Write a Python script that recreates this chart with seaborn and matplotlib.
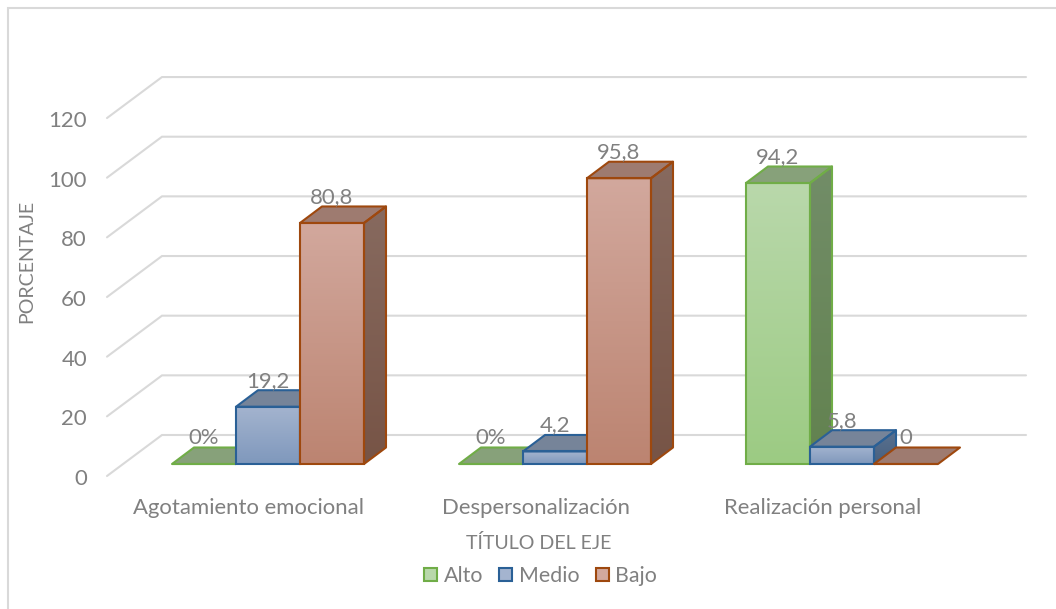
import numpy as np
import pandas as pd
import matplotlib
matplotlib.use("Agg")
import matplotlib.pyplot as plt
from matplotlib.lines import Line2D
from matplotlib.patches import Patch, Polygon
from matplotlib.transforms import ScaledTranslation
import seaborn as sns

# Chart values
categories = ["Agotamiento emocional", "Despersonalización", "Realización personal"]
series_names = ["Alto", "Medio", "Bajo"]
alto = [0, 0, 94.2]
medio = [19.2, 4.2, 5.8]
bajo = [80.8, 95.8, 0]
alto_labels = ["0%", "0%", "94,2"]
medio_labels = ["19,2", "4,2", "5,8"]
bajo_labels = ["80,8", "95,8", "0"]
y_ticks = [0, 20, 40, 60, 80, 100, 120]

# Per-series styling: edge, front top/bottom, side top/bottom, roof
edge_colors = {"Alto": "#70AD47", "Medio": "#2A6096", "Bajo": "#9E480E"}
front_colors = {"Alto": ("#B9D8AB", "#9CCB83"), "Medio": ("#A4B4CF", "#7F98BC"), "Bajo": ("#D2A89D", "#BC8471")}
side_colors = {"Alto": ("#728D68", "#62824F"), "Medio": ("#5A7190", "#48617F"), "Bajo": ("#876A5F", "#775446")}
roof_colors = {"Alto": "#87A17A", "Medio": "#768499", "Bajo": "#9E7B70"}
text_color = "#808080"
grid_color = "#D9D9D9"

W, H = 1056, 609
DPI = 100
sns.set_theme(style="white", rc={"figure.dpi": DPI})
plt.rcParams["font.family"] = ["Lato", "DejaVu Sans"]
FS = 15.9
TITLE_FS = 14.1

fig = plt.figure(figsize=(W / DPI, H / DPI), dpi=DPI)

# Axes box in pixels; limits chosen so that one category step is 287 px and one unit 2.983 px
L, R, T, B = 100, 1040, 20, 490
PX_X, PX_Y = 287.0, 2.983
X0_PX, Y0_PX = 268.0, 464.0
ax = fig.add_axes([L / W, 1 - B / H, (R - L) / W, (B - T) / H])


def px_dx(px):
    return px / PX_X


def px_dy(px):
    return px / PX_Y


table = pd.DataFrame({
    "categoria": categories * 3,
    "nivel": np.repeat(series_names, 3),
    "valor": alto + medio + bajo,
})
sns.barplot(data=table, x="categoria", y="valor", hue="nivel", order=categories,
            hue_order=series_names, palette=[edge_colors[s] for s in series_names],
            width=192 / 287, gap=0, saturation=1, legend=False, ax=ax)
xlim = ((L - X0_PX) / PX_X, (R - X0_PX) / PX_X)
ylim = ((Y0_PX - B) / PX_Y, (Y0_PX - T) / PX_Y)

# Depth of a bar and of the back wall, as offsets in data units
bar_dx, bar_dv = px_dx(22), px_dy(16.5)
wall_front_x = (107 - X0_PX) / PX_X
wall_back_x = (162 - X0_PX) / PX_X
wall_end_x = (1026 - X0_PX) / PX_X
wall_front_dv, wall_back_dv = px_dy(-12), px_dy(29)

for tick in y_ticks:
    ax.plot([wall_front_x, wall_back_x, wall_end_x],
            [tick + wall_front_dv, tick + wall_back_dv, tick + wall_back_dv],
            color=grid_color, lw=1.5, zorder=1, clip_on=False, solid_joinstyle="miter")


def shaded(points, colors, z):
    """Fill a polygon with a vertical two-colour gradient."""
    pts = np.asarray(points)
    x0, x1, v0, v1 = pts[:, 0].min(), pts[:, 0].max(), pts[:, 1].min(), pts[:, 1].max()
    if v1 - v0 <= 0:
        return
    top, bottom = (np.array(matplotlib.colors.to_rgb(c)) for c in colors)
    ramp = np.linspace(0, 1, 128)[:, None, None]
    image = top * (1 - ramp) + bottom * ramp
    im = ax.imshow(image, extent=(x0, x1, v0, v1), origin="upper", aspect="auto",
                   zorder=z, interpolation="bilinear")
    im.set_clip_path(Polygon(pts, closed=True, transform=ax.transData))


n_cat = len(categories)
bars = list(ax.patches)
for s_idx, name in enumerate(series_names):
    for c_idx in range(n_cat):
        bar = bars[s_idx * n_cat + c_idx]
        x0, x1 = bar.get_x(), bar.get_x() + bar.get_width()
        v = bar.get_height()
        z = 3 + c_idx * 10 + s_idx * 3
        edge = edge_colors[name]
        # front face
        bar.set_facecolor("none")
        bar.set_edgecolor(edge)
        bar.set_linewidth(1.5)
        bar.set_zorder(z + 0.5)
        shaded([(x0, 0), (x1, 0), (x1, v), (x0, v)], front_colors[name], z)
        # roof
        ax.add_patch(Polygon([(x0, v), (x1, v), (x1 + bar_dx, v + bar_dv), (x0 + bar_dx, v + bar_dv)],
                             closed=True, facecolor=roof_colors[name], edgecolor=edge,
                             lw=1.5, zorder=z + 0.2, joinstyle="round"))
        # right side
        side = [(x1, 0), (x1 + bar_dx, bar_dv), (x1 + bar_dx, v + bar_dv), (x1, v)]
        if v > 0:
            shaded(side, side_colors[name], z)
            ax.add_patch(Polygon(side, closed=True, facecolor="none", edgecolor=edge,
                                 lw=1.5, zorder=z + 0.2, joinstyle="round"))

# Value labels sit above the front edge of each bar
for s_idx, labels in enumerate([alto_labels, medio_labels, bajo_labels]):
    for c_idx, label in enumerate(labels):
        bar = bars[s_idx * n_cat + c_idx]
        ax.annotate(label, (bar.get_x() + bar.get_width() / 2, bar.get_height()),
                    xytext=(0, 26 * 72 / DPI), textcoords="offset points",
                    ha="center", va="center", color=text_color, fontsize=FS, zorder=100)

ax.set_xlim(xlim)
ax.set_ylim(ylim)
sns.despine(ax=ax, left=True, bottom=True, top=True, right=True)
ax.patch.set_visible(False)

# Tick labels on the front plane, shifted to sit clear of the floor
ax.set_yticks(y_ticks, [str(t) for t in y_ticks])
ax.set_xticks(range(n_cat), categories)
ax.tick_params(axis="both", length=0, labelsize=FS, labelcolor=text_color)
ax.tick_params(axis="y", pad=(L - 87) * 72 / DPI)
ax.tick_params(axis="x", pad=(507 - B - 9) * 72 / DPI)
y_shift = ScaledTranslation(0, -13 / DPI, fig.dpi_scale_trans)
x_shift = ScaledTranslation(-19.5 / DPI, 0, fig.dpi_scale_trans)
for lab in ax.get_yticklabels():
    lab.set_transform(lab.get_transform() + y_shift)
for lab in ax.get_xticklabels():
    lab.set_transform(lab.get_transform() + x_shift)
    lab.set_clip_on(False)

ax.set_ylabel("PORCENTAJE", color=text_color, fontsize=TITLE_FS, va="center")
ax.yaxis.set_label_coords((27 - L) / (R - L), (B - 261) / (B - T))
ax.set_xlabel("TÍTULO DEL EJE", color=text_color, fontsize=TITLE_FS, va="center")
ax.xaxis.set_label_coords((539 - L) / (R - L), (B - 543) / (B - T))

handles = [Patch(facecolor=front_colors[s][0], edgecolor=edge_colors[s], lw=1.5) for s in series_names]
fig.legend(handles, series_names, loc="center", bbox_to_anchor=(540.5 / W, 1 - 576 / H), ncol=3,
           frameon=False, fontsize=15.4, labelcolor=text_color, handlelength=0.62, handleheight=0.62,
           handletextpad=0.3, columnspacing=0.75, borderpad=0, borderaxespad=0)

# Chart frame: only the top and left edges are drawn
fig.add_artist(Line2D([8 / W, 8 / W, 1], [0, 1 - 8 / H, 1 - 8 / H],
                      color=grid_color, lw=1.5, transform=fig.transFigure, solid_joinstyle="miter"))

fig.savefig("out.png", dpi=DPI)
